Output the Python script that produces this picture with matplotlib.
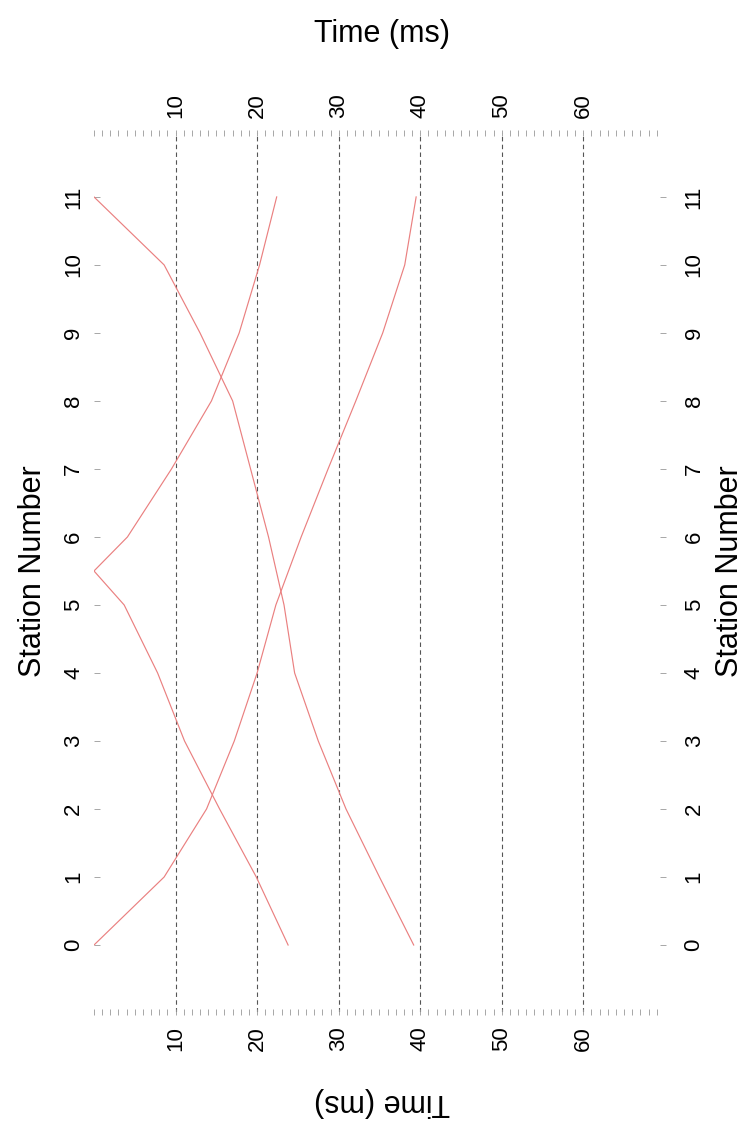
import numpy as np
import matplotlib
matplotlib.use("Agg")
from matplotlib import pyplot as plt

plt.rcParams["font.family"] = ["Liberation Sans", "DejaVu Sans"]

# travel times (ms) read at each station
stations = [0, 1, 2, 3, 4, 5, 6, 7, 8, 9, 10, 11]
fwd_time = [0, 8.6, 13.8, 17.2, 20.0, 22.3, 25.4, 28.7, 32.1, 35.4, 38.1, 39.5]
rev_time = [39.2, 35.0, 30.9, 27.5, 24.6, 23.3, 21.4, 19.2, 17.0, 13.0, 8.6, 0]

# shot in the middle of the spread
mid_stations = [0, 1, 2, 3, 4, 5, 5.5, 6, 7, 8, 9, 10, 11]
mid_time = [23.8, 19.9, 15.4, 11.1, 7.8, 3.7, 0, 4.1, 9.5, 14.4, 17.8, 20.3, 22.4]

time_ticks = [10, 20, 30, 40, 50, 60]

line_color = "#ea8080"

fig = plt.figure(figsize=(7.5, 11.38), dpi=100)
ax = fig.add_axes([94 / 750, 1 - 1012 / 1138, (660 - 94) / 750, (1012 - 133) / 1138])

ax.plot(fwd_time, stations, color=line_color, lw=0.85)
ax.plot(rev_time, stations, color=line_color, lw=0.85)
ax.plot(mid_time, mid_stations, color=line_color, lw=0.85)

ax.set_xlim(0, 69.4)
ax.set_ylim(-0.985, 11.94)
for s in ax.spines.values():
    s.set_visible(False)

# time axis: minor ticks each ms, labels every 10, on top and bottom
ax.set_xticks(time_ticks)
ax.set_xticks(np.arange(0, 70, 1), minor=True)
ax.xaxis.set_ticks_position("both")
ax.tick_params(axis="x", which="both", direction="inout", length=5, width=0.6,
               color="#999999", top=True, bottom=True, labeltop=True, labelbottom=True,
               labelsize=16, pad=8, labelrotation=90)
ax.grid(axis="x", which="major", linestyle=(0, (4, 3)), color="#555555", lw=0.8)

# station axis
ax.set_yticks(stations)
ax.tick_params(axis="y", direction="in", length=4.5, width=0.6, color="#999999",
                labelsize=16, pad=7, labelrotation=90)
ax.set_yticklabels([str(s) for s in stations], va="center")
sec = ax.secondary_yaxis("right")
sec.set_yticks(stations)
sec.set_yticklabels([str(s) for s in stations], va="center")
sec.tick_params(axis="y", direction="out", length=4, width=0.6, color="#999999",
                labelsize=16, pad=13, labelrotation=90)
sec.spines["right"].set_visible(False)

fig.text(382 / 750, 1 - 34 / 1138, "Time (ms)", fontsize=22, ha="center", va="center")
fig.text(382 / 750, 1 - 1102 / 1138, "Time (ms)", fontsize=22, ha="center", va="center",
         rotation=180)
fig.text(33 / 750, 1 - 571 / 1138, "Station Number", fontsize=22, ha="center", va="center",
         rotation=90)
fig.text(730 / 750, 1 - 571 / 1138, "Station Number", fontsize=22, ha="center", va="center",
         rotation=90)

fig.savefig("out.png", dpi=100)
